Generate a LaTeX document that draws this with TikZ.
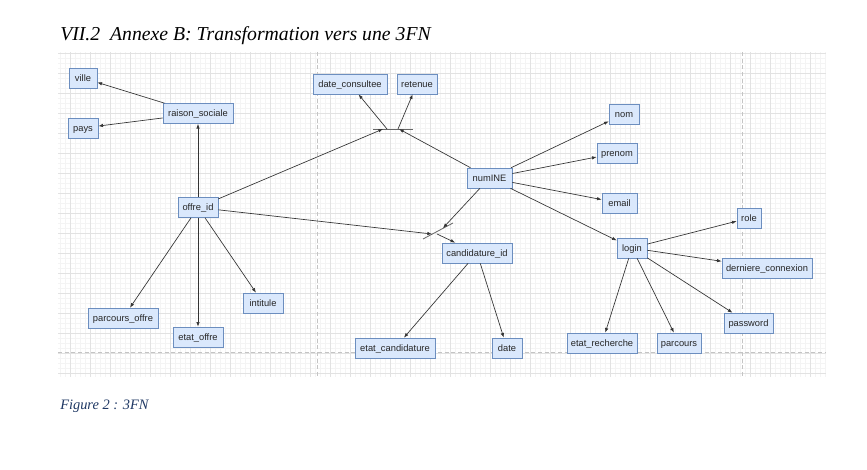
\documentclass[tikz,border=0pt]{standalone}
\usepackage{fontspec}
\setmainfont{Liberation Serif}
\newfontfamily\nodefont{Liberation Sans}
\usetikzlibrary{arrows.meta}
\definecolor{nodefill}{HTML}{DAE8FC}
\definecolor{nodeline}{HTML}{6C8EBF}
\definecolor{edgecol}{HTML}{333333}
\definecolor{minorcol}{HTML}{F4F4F4}
\definecolor{majorcol}{HTML}{E2E2E2}
\definecolor{dashcol}{HTML}{C4C4C4}
\definecolor{capcol}{HTML}{1F3864}
\begin{document}
\begin{tikzpicture}[x=0.75pt,y=-0.75pt,
  box/.style={draw=nodeline, fill=nodefill, line width=0.5pt, minimum height=15pt, inner sep=0pt, text height=5.6pt, text depth=1pt, font=\nodefont\fontsize{7}{8}\selectfont, text=black!85},
  arr/.style={draw=edgecol, line width=0.5pt, -{Latex[length=3.5pt,width=2.6pt]}},
  junc/.style={draw=black!60, line width=0.6pt},
  minorgrid/.style={draw=minorcol, line width=0.3pt},
  majorgrid/.style={draw=majorcol, line width=0.5pt},
  dashline/.style={draw=dashcol, line width=0.6pt, dash pattern=on 3pt off 2pt}]
\useasboundingbox (0,0) rectangle (867,469);
\fill[white] (0,0) rectangle (867,469);
% grid
\foreach \x in {60,65,...,825} \draw[minorgrid] (\x,52) -- (\x,377);
\foreach \y in {53,58,...,376} \draw[minorgrid] (58,\y) -- (826,\y);
\foreach \x in {70,90,...,810} \draw[majorgrid] (\x,52) -- (\x,377);
\foreach \y in {53,73,...,373} \draw[majorgrid] (58,\y) -- (826,\y);
\draw[dashline] (317,52) -- (317,377);
\draw[dashline] (742,52) -- (742,377);
\draw[dashline] (58,352.5) -- (826,352.5);
% title and caption
\node[anchor=base west, inner sep=0pt, font=\itshape\fontsize{14.8}{17}\selectfont] (title) at (60,40) {VII.2\ \ Annexe B: Transformation vers une 3FN};
\node[anchor=base west, inner sep=0pt, font=\itshape\fontsize{10.8}{12}\selectfont, text=capcol] (caption) at (60,409) {Figure 2 : 3FN};
% nodes
\node[box, minimum width=21pt] (ville) at (83,78) {ville};
\node[box, minimum width=22.5pt] (pays) at (83,128) {pays};
\node[box, minimum width=52.5pt] (raison) at (198,113.5) {raison\_sociale};
\node[box, minimum width=30pt] (offre) at (198,207.5) {offre\_id};
\node[box, minimum width=55.5pt] (dcons) at (350,84) {date\_consultee};
\node[box, minimum width=30pt] (retenue) at (417,84) {retenue};
\node[box, minimum width=33.75pt] (numine) at (489.5,178) {numINE};
\node[box, minimum width=22.5pt] (nom) at (624,114) {nom};
\node[box, minimum width=30pt] (prenom) at (617,153) {prenom};
\node[box, minimum width=26.25pt] (email) at (619.5,203) {email};
\node[box, minimum width=18pt] (role) at (749,218) {role};
\node[box, minimum width=22.5pt] (login) at (632,248) {login};
\node[box, minimum width=67.5pt] (dconn) at (767,268) {derniere\_connexion};
\node[box, minimum width=52.5pt] (cand) at (477,253) {candidature\_id};
\node[box, minimum width=30pt] (intitule) at (263,303) {intitule};
\node[box, minimum width=52.5pt] (poffre) at (123,318) {parcours\_offre};
\node[box, minimum width=37.5pt] (eoffre) at (198,337) {etat\_offre};
\node[box, minimum width=60pt] (ecand) at (395,348) {etat\_candidature};
\node[box, minimum width=22.5pt] (date) at (507,348) {date};
\node[box, minimum width=52.5pt] (erech) at (602,343) {etat\_recherche};
\node[box, minimum width=33pt] (parcours) at (679,343) {parcours};
\node[box, minimum width=36.75pt] (password) at (748.5,323) {password};
% junction points
\coordinate (j1l) at (373,129);
\coordinate (j1r) at (413,129);
\coordinate (j1a) at (383,129);
\coordinate (j1b) at (399,129);
\coordinate (j1c) at (387,129);
\coordinate (j1d) at (398,129);
\coordinate (j2l) at (423,239);
\coordinate (j2r) at (453,223);
\coordinate (j2a) at (432,234);
\coordinate (j2b) at (443,228);
\coordinate (j2c) at (437,234);
\draw[junc] (j1l) -- (j1r);
\draw[junc] (j2l) -- (j2r);
% edges
\draw[arr] (raison) -- (ville);
\draw[arr] (raison) -- (pays);
\draw[arr] (offre) -- (raison);
\draw[arr] (offre) -- (j1a);
\draw[arr] (offre) -- (j2a);
\draw[arr] (offre) -- (poffre);
\draw[arr] (offre) -- (eoffre);
\draw[arr] (offre) -- (intitule);
\draw[arr] (j1c) -- (dcons);
\draw[arr] (j1d) -- (retenue);
\draw[arr] (numine) -- (j1b);
\draw[arr] (numine) -- (j2b);
\draw[arr] (j2c) -- (cand);
\draw[arr] (numine) -- (nom);
\draw[arr] (numine) -- (prenom);
\draw[arr] (numine) -- (email);
\draw[arr] (numine) -- (login);
\draw[arr] (cand) -- (ecand);
\draw[arr] (cand) -- (date);
\draw[arr] (login) -- (role);
\draw[arr] (login) -- (dconn);
\draw[arr] (login) -- (password);
\draw[arr] (login) -- (erech);
\draw[arr] (login) -- (parcours);
\end{tikzpicture}
\end{document}
